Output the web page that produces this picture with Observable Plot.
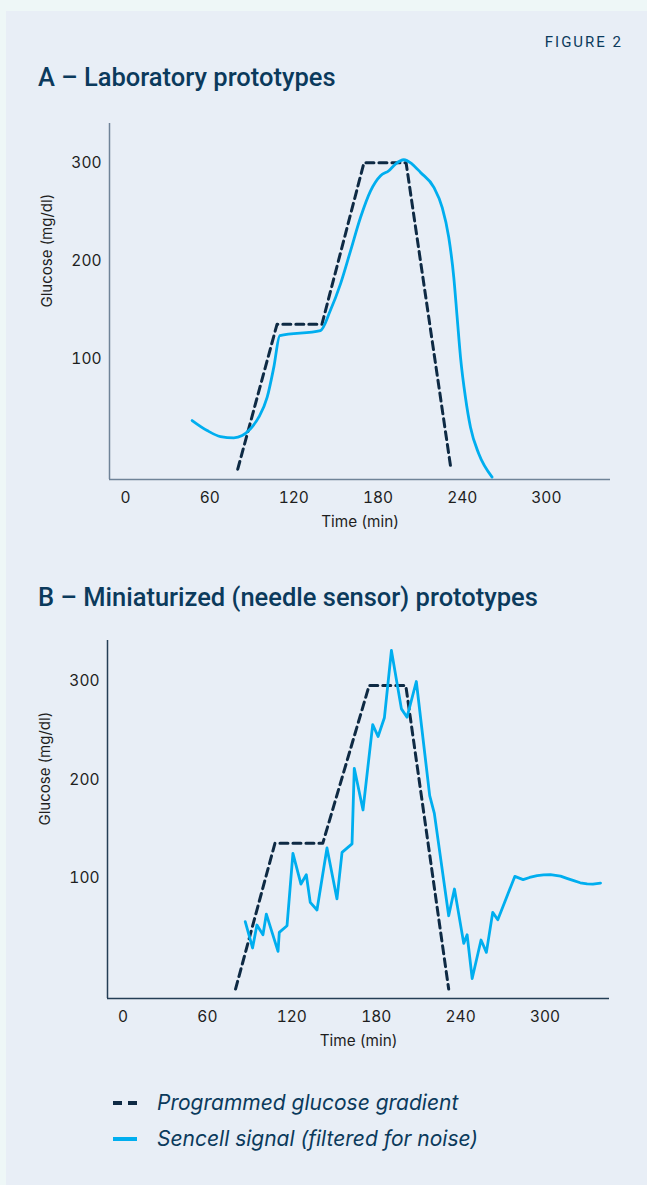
<!DOCTYPE html>
<html>
<head>
<meta charset="utf-8">
<script src="https://cdn.jsdelivr.net/npm/d3@7"></script>
<script src="https://cdn.jsdelivr.net/npm/@observablehq/plot@0.6"></script>
<style>
  html, body { margin: 0; padding: 0; }
  body { width: 647px; height: 1185px; background: #eef7f7; position: relative; overflow: hidden; font-family: Inter, "Noto Sans", sans-serif; }
  #panel { position: absolute; left: 6px; top: 11px; right: 0; bottom: 0; background: #e8eef6; }
  .abs { position: absolute; }
  .fig { right: 24px; top: 32px; font: 400 15px Roboto, sans-serif; letter-spacing: 2px; color: #0b3a5c; line-height: 20px; }
  .title { left: 38px; font: 500 25.5px Roboto, sans-serif; color: #0b3a5c; line-height: 30px; white-space: nowrap; }
  .leg { left: 157px; font: italic 400 21px Inter, sans-serif; color: #0b3a5c; line-height: 26px; white-space: nowrap; }
  .sw { position: absolute; height: 4px; }
  .chart { position: absolute; left: 0; }
</style>
</head>
<body>
<div id="panel"></div>
<div class="abs fig">FIGURE 2</div>
<div class="abs title" style="top:62px">A – Laboratory prototypes</div>
<div class="abs title" style="top:582px">B – Miniaturized (needle sensor) prototypes</div>
<div id="chartA" class="chart" style="top:100px"></div>
<div id="chartB" class="chart" style="top:620px"></div>
<div class="sw" style="left:113px;top:1101px;width:9px;background:#0e2a44"></div>
<div class="sw" style="left:128px;top:1101px;width:9px;background:#0e2a44"></div>
<div class="abs leg" style="top:1090px">Programmed glucose gradient</div>
<div class="sw" style="left:113px;top:1137px;width:24px;background:#00aeef"></div>
<div class="abs leg" style="top:1126px">Sencell signal (filtered for noise)</div>
<script>
// ---- data ----
const timeTicks = [0, 60, 120, 180, 240, 300];
const glucoseTicks = [100, 200, 300];

// Panel A – laboratory prototypes
const progTimeA = [80, 108, 140, 170, 200, 232];
const progGlucoseA = [-13, 135, 135, 300, 300, -13];
const sigTimeA = [47.5, 58.2, 67.7, 77.2, 83.2, 89.1, 95, 101, 105.7, 110, 139, 146, 153.2, 160.4, 167.5, 174.6, 181.8, 187.7, 192.4, 198.4, 204.3, 210.3, 219.8, 225.7, 230.4, 234, 236.4, 238.8, 242.3, 245.9, 251.8, 261.3];
const sigGlucoseA = [36.7, 26.5, 20.4, 19.1, 21.4, 28.3, 40.1, 60.5, 91, 123.5, 128.6, 149, 176, 210, 244, 271, 286.7, 291.8, 298.6, 303, 298.6, 290, 274.8, 254.4, 223.8, 183, 142, 101.3, 60.5, 29.9, 2.8, -21];

// Panel B – miniaturized (needle sensor) prototypes
const progTimeB = [80, 108, 142, 175, 201, 231.5];
const progGlucoseB = [-13.6, 135, 135, 296, 296, -13.6];
const sigTimeB = [86.9, 92.1, 95.2, 99.5, 101.9, 110.2, 111.1, 116.6, 120.8, 126.5, 130.3, 133.1, 137.9, 145, 152.1, 155.7, 162.8, 164.4, 170.6, 177.5, 181.3, 185.8, 190.8, 197.9, 201.9, 208.5, 218, 221.3, 231.5, 235.6, 242.2, 244.6, 248.2, 254.5, 258.3, 262.8, 266.4, 278.5, 284.4, 289, 294.4, 299, 303.8, 311, 316, 320.4, 325, 329.9, 334, 339.4];
const sigGlucoseB = [55.1, 28.3, 51.7, 41.8, 62.9, 24.8, 44.2, 51, 124.8, 93.5, 103, 74.8, 67, 130.3, 78.3, 125.8, 134.4, 211.5, 169, 256.1, 243.9, 263, 331.6, 272.1, 263.6, 300, 183.7, 165.6, 61.2, 88.4, 33, 41.8, -2.8, 36.4, 23.8, 64.6, 57.1, 101.3, 98, 100.2, 102, 102.8, 103, 101.5, 99, 96.9, 94.8, 93.6, 93.4, 94.5];

const NAVY = "#0e2a44";
const CYAN = "#00aeef";

const toRows = (ts, vs) => ts.map((t, i) => ({t, v: vs[i]}));

function panel({prog, sig, xDomain, yDomain, m, axisColor, curve}) {
  return Plot.plot({
    width: 647, height: 450,
    marginLeft: m[0], marginRight: m[1], marginTop: m[2], marginBottom: m[3],
    style: {background: "transparent", fontFamily: "Inter, sans-serif", color: "#1e1e1e", overflow: "visible"},
    x: {domain: xDomain},
    y: {domain: yDomain},
    marks: [
      Plot.ruleY([yDomain[0]], {stroke: axisColor, strokeWidth: 1.5}),
      Plot.ruleX([xDomain[0]], {stroke: axisColor, strokeWidth: 1.5}),
      Plot.axisX(timeTicks, {tickSize: 0, tickPadding: 12, fontSize: 15.5, label: null}),
      Plot.axisY(glucoseTicks, {tickSize: 0, tickPadding: 8, fontSize: 15.5, label: null}),
      Plot.line(prog, {x: "t", y: "v", stroke: NAVY, strokeWidth: 3, strokeDasharray: "8,5"}),
      Plot.line(sig, {x: "t", y: "v", stroke: CYAN, strokeWidth: 2.8, curve, strokeLinejoin: "round"}),
      Plot.text(["Time (min)"], {text: d => d, frameAnchor: "bottom", dy: 47, fontSize: 15.3}),
      Plot.text(["Glucose (mg/dl)"], {text: d => d, frameAnchor: "left", dx: -62, dy: 6, rotate: -90, fontSize: 15})
    ]
  });
}

document.getElementById("chartA").appendChild(panel({
  prog: toRows(progTimeA, progGlucoseA),
  sig: toRows(sigTimeA, sigGlucoseA),
  xDomain: [-11.4, 345.7], yDomain: [-23.5, 340],
  m: [109, 37, 23, 71], axisColor: "#6f8398", curve: "monotone-x"
}));
document.getElementById("chartB").appendChild(panel({
  prog: toRows(progTimeB, progGlucoseB),
  sig: toRows(sigTimeB, sigGlucoseB),
  xDomain: [-11, 345.8], yDomain: [-23.2, 341.8],
  m: [107, 38, 20, 72], axisColor: "#243e56", curve: "linear"
}));
</script>
</body>
</html>
